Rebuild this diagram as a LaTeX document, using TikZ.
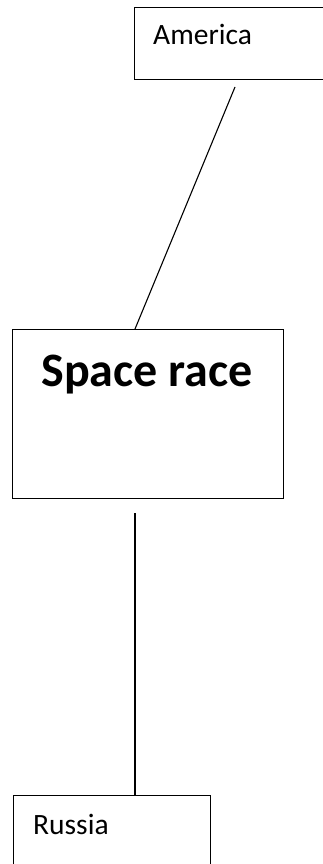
\documentclass[tikz,border=0pt]{standalone}
\usepackage{fontspec}
\setmainfont{Carlito}
\begin{document}
\begin{tikzpicture}[x=1pt,y=-1pt,
  box/.style={draw=black,line width=1pt,inner sep=0pt,anchor=north west},
  lbl/.style={anchor=base west,inner sep=0pt,font=\fontsize{29.5}{35}\selectfont},
  conn/.style={draw=black,line width=1.1pt}]
\clip (0,0) rectangle (323,864);
\fill[white] (0,0) rectangle (323,864);
\node[box,minimum width=200pt,minimum height=72pt] (america) at (134,7) {};
\node[lbl] (americatext) at (153,45) {America};
\node[box,minimum width=271pt,minimum height=169pt] (space) at (12,329) {};
\node[anchor=base,inner sep=0pt,font=\fontsize{48}{57}\selectfont\bfseries] (spacetext) at (147,386) {Space race};
\node[box,minimum width=197pt,minimum height=90pt] (russia) at (13,795) {};
\node[lbl] (russiatext) at (33,834) {Russia};
\coordinate (a1) at (235,87);
\coordinate (s1) at (135,329);
\coordinate (s2) at (135,513);
\coordinate (r1) at (135,795);
\draw[conn] (a1) -- (s1);
\draw[conn] (s2) -- (r1);
\end{tikzpicture}
\end{document}
